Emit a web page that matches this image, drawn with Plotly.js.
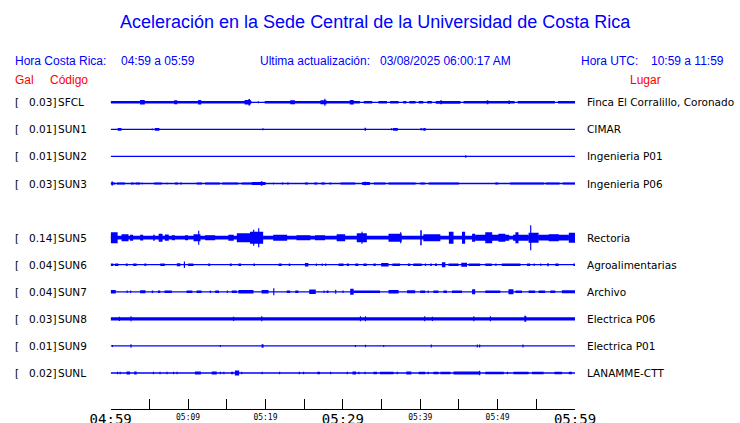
<!DOCTYPE html>
<html><head><meta charset="utf-8">
<script src="https://cdn.plot.ly/plotly-3.0.1.min.js"></script>
<style>html,body{margin:0;padding:0;background:#fff}#chart{width:740px;height:423px}</style>
</head><body><div id="chart"></div>
<script>
// ---------------- DATA ----------------
const codes  = ['SFCL','SUN1','SUN2','SUN3','SUN4','SUN5','SUN6','SUN7','SUN8','SUN9','SUNL'];
const gal    = ['0.03','0.01','0.01','0.03',null,'0.14','0.04','0.04','0.03','0.01','0.02'];
const places = ['Finca El Corralillo, Coronado','CIMAR','Ingenieria P01','Ingenieria P06',null,
                'Rectoria','Agroalimentarias','Archivo','Electrica P06','Electrica P01','LANAMME-CTT'];

const startMinute = 0, endMinute = 60;          // 04:59 -> 05:59
const tickMinutes = [0,5,10,15,20,25,30,35,40,45,50,55,60];
const minorTickText = ['','','05:09','','05:19','','','','05:39','','05:49','',''];
const majorTickMinutes = [0,30,60];
const majorTickText = ['04:59','05:29','05:59'];

// waveform envelopes: [start minute, end minute, half amplitude (px-ish units)]
const sfcl = [[0,18.2,1.3],[19.9,32.2,1.3],[32.7,33.8,1.2],[34.6,35.7,1.2],[36.1,37.2,1.2],[37.8,38.2,1.2],
  [38.6,39.4,1.2],[39.8,40.4,1.2],[40.9,41.5,1.2],[42.0,45.2,1.4],[45.6,52.2,1.3],[52.6,57.4,1.3],[57.8,60,1.3],
  [19.0,19.15,1.0],[3.8,4.4,2.3],[8.2,8.6,2.0],[11.3,11.7,2.3],[17.3,18.1,2.3],[17.8,18.0,3.3],[23.2,23.8,2.0],
  [27.1,27.9,2.0],[27.6,27.75,3.5],[30.9,31.4,2.3],[42.6,42.8,2.0],[48.6,48.8,2.0],[51.4,51.6,1.8]];
const sun1 = [[0.9,1.4,1.3],[5.3,5.45,0.8],[5.7,6.3,1.3],[19.6,19.75,1.0],[32.8,33.0,1.5],[36.2,36.4,1.0],
  [36.5,37.1,1.3],[40.0,40.3,1.0],[40.4,40.7,1.3]];
const sun2 = [[45.8,45.95,1.2]];
const sun3 = [[0.1,0.3,2.0],[0,0.56,1.0],[0.8,1.85,1.0],[2.6,3.0,1.0],[3.2,3.8,1.0],[4.0,4.1,1.0],[5.6,6.6,1.0],
  [7.2,7.4,0.8],[8.3,8.7,1.0],[9.0,9.2,1.0],[11.1,11.8,1.0],[12.2,14.1,1.0],[14.4,16.5,1.0],[16.9,18.2,1.0],
  [18.2,20.0,1.4],[19.4,19.6,2.2],[21.0,21.1,1.0],[22.1,22.3,1.0],[22.8,23.0,1.0],[25.1,25.5,1.0],[26.3,26.7,1.0],
  [27.2,27.7,1.0],[28.3,28.5,1.0],[29.7,31.6,1.0],[32.5,33.5,1.4],[32.8,33.0,1.8],[34.0,35.5,1.0],[35.9,39.4,1.0],
  [40.0,40.6,1.0],[41.1,45.0,1.0],[49.7,50.1,1.0],[51.6,56.0,1.0],[56.2,58.0,1.0],[58.4,60,1.0]];
const sun5 = [[0,60,1.8],[0,0.9,5.5],[1.4,2.3,3.5],[2.5,2.9,3.0],[3.8,4.2,2.8],[5.5,5.7,3.0],[6.2,6.7,4.0],
  [7.0,7.5,3.2],[7.9,8.3,2.5],[9.6,10.0,2.5],[10.7,11.6,3.5],[11.3,11.45,7.0],[12.2,13.5,2.5],[15.2,15.9,3.0],
  [16.3,18.0,4.5],[18.0,19.7,6.0],[18.4,18.55,8.0],[19.05,19.2,9.5],[21.0,22.8,3.0],[24.0,25.8,2.5],[26.4,27.7,2.5],
  [29.2,30.3,3.5],[31.8,33.1,4.5],[32.4,32.55,6.0],[35.9,37.6,4.0],[37.4,37.55,5.5],[40.0,40.2,7.5],[40.4,42.6,3.5],
  [43.7,44.3,6.0],[45.4,45.8,6.0],[46.7,47.1,4.0],[47.1,51.5,3.0],[48.4,49.3,5.5],[50.1,51.0,4.0],[52.0,54.0,3.0],
  [52.3,52.7,5.5],[54.0,55.3,5.0],[54.2,54.35,12.5],[55.3,59.2,2.8],[56.6,57.9,3.5],[59.2,60,5.0]];
const sun6 = [[0,0.35,1.3],[0.55,1.0,1.3],[1.95,2.2,1.3],[2.9,3.35,1.3],[4.35,4.6,1.3],[6.4,7.0,1.3],[8.55,9.0,1.5],
  [9.45,9.6,3.3],[10.0,10.7,1.3],[12.6,12.85,1.3],[15.4,15.65,1.3],[16.5,16.85,1.3],[18.45,18.65,1.3],[21.7,22.1,1.3],
  [23.0,23.2,1.3],[25.1,25.55,1.8],[26.5,26.65,1.3],[27.25,27.4,1.3],[27.7,27.85,1.3],[29.45,30.1,1.3],[30.5,30.8,1.3],
  [31.6,32.0,1.3],[32.65,33.1,1.3],[33.95,34.25,1.3],[34.95,35.9,1.7],[36.4,37.4,1.3],[38.4,38.7,1.3],[39.1,40.2,1.3],
  [40.6,40.75,1.3],[41.3,41.5,1.3],[41.9,42.15,1.3],[42.8,43.25,2.5],[43.65,44.95,1.3],[45.3,46.05,2.0],[46.25,47.75,1.3],
  [48.4,49.25,1.3],[49.7,49.85,1.3],[50.55,52.95,1.3],[53.8,54.2,1.3],[54.65,54.8,1.3],[55.5,55.65,1.3],[56.4,56.6,1.5],
  [57.45,57.9,1.3],[59.8,60,1.3]];
const sun7 = [[0,0.65,1.7],[2.05,2.2,1.3],[2.5,2.65,1.3],[3.8,4.5,1.5],[5.3,5.5,1.3],[6.1,6.4,1.3],[6.95,7.9,1.3],
  [9.8,10.55,1.3],[11.1,11.75,1.3],[12.8,12.95,1.3],[13.5,14.0,1.3],[15.0,15.15,1.3],[15.65,16.3,1.3],[16.5,18.45,1.7],
  [19.5,20.4,1.8],[21.0,21.15,3.5],[22.75,23.2,1.3],[23.85,24.25,1.3],[25.65,26.5,2.2],[27.5,27.65,1.3],[27.9,28.15,1.3],
  [29.0,29.15,2.0],[29.95,30.1,1.3],[30.95,31.4,3.0],[31.4,34.8,1.3],[35.9,37.2,1.8],[38.3,39.35,1.5],[40.0,40.65,1.3],
  [40.95,41.1,1.3],[41.7,42.35,1.3],[43.0,43.45,1.3],[44.1,45.4,1.3],[46.7,47.1,2.5],[48.4,50.35,1.3],[51.4,52.05,2.5],
  [52.3,53.15,1.3],[54.0,54.85,1.3],[55.3,56.15,1.3],[56.8,57.45,1.3],[58.3,60,1.5]];
const sun8 = [[0,60,1.7],[2.55,2.7,2.5],[1.05,1.2,2.2],[15.8,15.95,2.2],[19.45,19.6,2.5],[32.2,32.35,2.5],
  [32.85,33.0,2.5],[40.5,40.65,2.5],[41.5,41.65,2.2],[46.85,47.0,2.5],[49.0,49.15,2.5],[53.45,53.7,3.0]];
const sun9 = [[0.15,0.3,1.0],[2.55,2.7,1.7],[14.1,14.25,1.0],[19.5,19.75,1.7],[31.55,31.7,1.0],[32.85,33.0,1.3],
  [35.2,35.35,1.0],[41.35,41.5,1.5],[47.3,47.45,1.5],[47.6,47.75,1.5],[53.2,53.35,1.5]];
const sunl = [[0.8,0.95,1.2],[1.15,1.3,1.2],[2.05,2.5,1.5],[3.05,3.35,1.5],[5.45,5.6,1.2],[6.3,6.45,1.2],[7.2,7.35,1.2],
  [8.05,8.2,1.2],[8.5,8.65,1.2],[10.9,11.65,1.5],[13.05,13.7,1.5],[14.1,14.25,1.2],[14.55,14.7,1.2],[15.55,15.85,1.2],
  [16.05,16.6,2.5],[16.85,17.0,1.2],[19.5,19.65,1.2],[21.75,21.9,1.2],[24.3,24.45,1.2],[24.85,25.0,1.2],[26.7,27.05,1.2],
  [28.35,28.5,1.2],[30.5,30.65,1.2],[31.25,31.7,1.5],[32.0,32.15,1.2],[32.8,32.95,1.2],[33.95,34.4,1.2],[34.8,36.55,1.2],
  [36.95,37.1,1.2],[38.2,38.85,1.5],[39.8,40.65,1.2],[40.95,41.1,1.2],[41.7,42.35,1.2],[42.6,43.9,1.2],[44.3,47.75,1.5],
  [47.6,47.75,2.2],[48.4,50.8,1.2],[51.2,51.35,1.2],[52.05,54.0,1.2],[54.45,55.95,1.2],[57.35,58.3,1.2],[59.2,59.6,1.2]];
const waveforms = [sfcl, sun1, sun2, sun3, null, sun5, sun6, sun7, sun8, sun9, sunl];

// ---------------- LAYOUT HELPERS ----------------
const W = 740, H = 423;
const fx = x => x / W;
const fy = y => 1 - y / H;
const BLUE = '#0000ff', RED = '#ff0000';
const rowTop = 102.3, rowStep = 27.07, rowHalf = 13.5;
const plotLeft = 110.7, plotRight = 575, axisY = 409;

const traces = [];
const layout = {
  width: W, height: H, margin: {l:0, r:0, t:0, b:0},
  paper_bgcolor: '#fff', plot_bgcolor: 'rgba(0,0,0,0)',
  showlegend: false, barmode: 'overlay',
  font: {family: 'DejaVu Sans', color: '#000'},
  xaxis: {domain: [fx(plotLeft), fx(plotRight)], range: [startMinute, endMinute], anchor: 'free', position: fy(axisY),
    showline: true, linecolor: '#000', linewidth: 1, ticks: 'inside', ticklen: 10, tickwidth: 1, tickcolor: '#000',
    tickmode: 'array', tickvals: tickMinutes, ticktext: minorTickText, showgrid: false, zeroline: false,
    tickfont: {family: 'DejaVu Sans Mono', size: 8, color: '#000'}, fixedrange: true, ticklabelstandoff: 0},
  xaxis2: {domain: [fx(plotLeft), fx(plotRight)], range: [startMinute, endMinute], anchor: 'free', position: fy(axisY),
    overlaying: 'x', side: 'bottom', showline: false, ticks: '', tickmode: 'array', tickvals: majorTickMinutes,
    ticktext: majorTickText, showgrid: false, zeroline: false,
    tickfont: {family: 'DejaVu Sans Mono', size: 14, color: '#000'}, fixedrange: true, ticklabelstandoff: 0},
  annotations: []
};
// invisible trace to activate xaxis2
traces.push({type:'scatter', mode:'markers', x:[startMinute], y:[0], xaxis:'x2', yaxis:'y',
  marker:{opacity:0}, hoverinfo:'skip'});

codes.forEach((code, i) => {
  const c = rowTop + rowStep * i;
  const yname = i === 0 ? 'y' : 'y' + (i + 1);
  const ykey = i === 0 ? 'yaxis' : 'yaxis' + (i + 1);
  layout[ykey] = {domain: [fy(c + rowHalf), fy(c - rowHalf)], range: [-rowHalf, rowHalf], visible: false,
    anchor: 'x', fixedrange: true, showgrid: false, zeroline: false};
  const wf = waveforms[i];
  if (!wf) return;
  traces.push({type:'scatter', mode:'lines', x:[startMinute, endMinute], y:[0,0], xaxis:'x', yaxis:yname,
    line:{color:BLUE, width:1.3}, hoverinfo:'skip'});
  traces.push({type:'bar', xaxis:'x', yaxis:yname,
    x: wf.map(s => (s[0] + s[1]) / 2), width: wf.map(s => s[1] - s[0]),
    base: wf.map(s => -s[2]), y: wf.map(s => 2 * s[2]),
    marker:{color:BLUE, line:{width:0}}, hoverinfo:'skip'});
  const common = {xref:'paper', yref:'paper', showarrow:false, borderpad:0, borderwidth:0,
    yanchor:'middle', y: fy(c), font:{family:'DejaVu Sans', size:10.5, color:'#000'}};
  layout.annotations.push(Object.assign({}, common, {text:'[', x: fx(15), xanchor:'left'}));
  layout.annotations.push(Object.assign({}, common, {text: gal[i] + ']', x: fx(55.5), xanchor:'right'}));
  layout.annotations.push(Object.assign({}, common, {text: code, x: fx(58.3), xanchor:'left'}));
  layout.annotations.push(Object.assign({}, common, {text: places[i], x: fx(587), xanchor:'left'}));
});

function hdr(text, x, y, color, size, anchor) {
  layout.annotations.push({text, x: fx(x), y: fy(y), xref:'paper', yref:'paper', showarrow:false,
    borderpad:0, borderwidth:0, xanchor: anchor || 'left', yanchor:'middle',
    font:{family:'Liberation Sans, Arial, sans-serif', size, color}});
}
hdr('Aceleración en la Sede Central de la Universidad de Costa Rica', 375.5, 22, BLUE, 18, 'center');
hdr('Hora Costa Rica:', 15, 61, BLUE, 12);
hdr('04:59 a 05:59', 120.5, 61, BLUE, 12);
hdr('Ultima actualización:', 260, 61, BLUE, 12);
hdr('03/08/2025 06:00:17 AM', 380, 61, BLUE, 12);
hdr('Hora UTC:', 580.5, 61, BLUE, 12);
hdr('10:59 a 11:59', 651, 61, BLUE, 12);
hdr('Gal', 15, 80, RED, 12);
hdr('Código', 50, 80, RED, 12);
hdr('Lugar', 630, 80, RED, 12);

Plotly.newPlot('chart', traces, layout, {staticPlot: true, displayModeBar: false});
</script></body></html>
